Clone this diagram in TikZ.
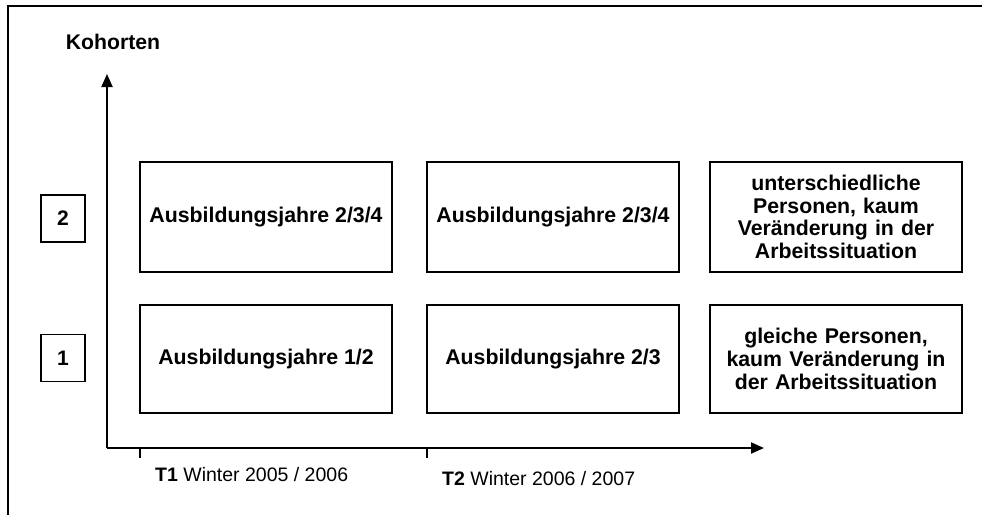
\documentclass[tikz,border=0pt]{standalone}
\usepackage{fontspec}
\setmainfont{Liberation Sans}
\usetikzlibrary{arrows.meta}
\begin{document}
\begin{tikzpicture}[x=1pt,y=-1pt,
  cell/.style={draw,line width=2pt,minimum width=252pt,align=center,font=\fontsize{21.3}{22.7}\selectfont\bfseries,inner sep=0pt},
  num/.style={draw,line width=1.6pt,minimum width=44pt,minimum height=47pt,font=\fontsize{21}{22}\selectfont\bfseries,inner sep=0pt},
  axis/.style={line width=2pt,-{Triangle[length=13pt,width=11pt]}},
  tick/.style={line width=1.2pt},
  lab/.style={font=\fontsize{19.5}{22}\selectfont,anchor=west,inner sep=0pt}]
\useasboundingbox (0,0) rectangle (982,515);
\draw[line width=2pt] (982,6) -- (8,6) -- (8,515);
\node[font=\fontsize{21.2}{22}\selectfont\bfseries] (koh) at (113,42) {Kohorten};
\coordinate (o) at (107,448);
\coordinate (ytip) at (107,74);
\coordinate (xtip) at (764,448);
\draw[axis] (o) -- (ytip);
\draw[axis] (o) -- (xtip);
\coordinate (t1a) at (140,448); \coordinate (t1b) at (140,458);
\coordinate (t2a) at (427,448); \coordinate (t2b) at (427,458);
\draw[tick] (t1a) -- (t1b);
\draw[tick] (t2a) -- (t2b);
\node[lab] (t1) at (155,475) {\textbf{T1} Winter 2005 / 2006};
\node[lab] (t2) at (442,479) {\textbf{T2} Winter 2006 / 2007};
\node[num] (n2) at (63,218.5) {2};
\node[num] (n1) at (63,358) {1};
\node[cell,minimum height=110pt] (a2) at (266,217) {Ausbildungsjahre 2/3/4};
\node[cell,minimum height=110pt] (b2) at (553,217) {Ausbildungsjahre 2/3/4};
\node[cell,minimum height=110pt,text width=250pt] (c2) at (836,217) {unterschiedliche\\Personen, kaum\\Veränderung in der\\Arbeitssituation};
\node[cell,minimum height=108pt] (a1) at (266,359) {Ausbildungsjahre 1/2};
\node[cell,minimum height=108pt] (b1) at (553,359) {Ausbildungsjahre 2/3};
\node[cell,minimum height=108pt,text width=250pt] (c1) at (836,359) {gleiche Personen,\\kaum Veränderung in\\der Arbeitssituation};
\end{tikzpicture}
\end{document}
